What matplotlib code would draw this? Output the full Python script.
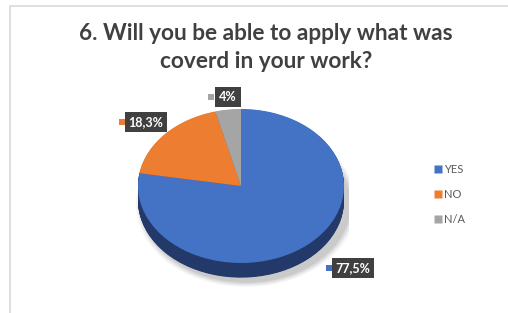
import matplotlib
matplotlib.use("Agg")
import matplotlib.pyplot as plt
from matplotlib.patches import Rectangle, Ellipse
from matplotlib.lines import Line2D

# data
answers = ["YES", "NO", "N/A"]
shares = [77.5, 18.3, 4.0]
share_labels = ["77,5%", "18,3%", "4%"]
colors = ["#4472C4", "#ED7D31", "#A5A5A5"]
side_colors = ["#22396A", "#A4521B", "#6F6F6F"]

W, H = 508, 313
fig = plt.figure(figsize=(W / 100, H / 100), dpi=100)
fig.patch.set_facecolor("white")

def fx(px):
    return px / W

def fy(py):
    return 1 - py / H

# chart frame (cut off at right and bottom)
fig.patches.append(Rectangle((fx(10), fy(330)), 1.2, fy(6) - fy(330),
                             transform=fig.transFigure, fill=False,
                             edgecolor="#D9D9D9", lw=1.2))

fig.text(fx(266), fy(33), "6. Will you be able to apply what was",
         ha="center", va="center", fontsize=16.3, fontweight="bold",
         color="#404040", family="Lato")
fig.text(fx(266), fy(61), "coverd in your work?",
         ha="center", va="center", fontsize=16.3, fontweight="bold",
         color="#404040", family="Lato")

# pie axes: top face is a unit circle squashed into an ellipse
cx, cy, rx, ry = 241, 186, 103, 77
xl, yb, yt = 1.05, -1.35, 1.05
ax = fig.add_axes([fx(cx - xl * rx), fy(cy - yb * ry), 2 * xl * rx / W, (yt - yb) * ry / H])
ax.axis("off")

depth = 0.19

# soft shadow
for i, a in enumerate([0.04, 0.05, 0.06, 0.07]):
    grow = 0.07 - i * 0.018
    ax.add_patch(Ellipse((0.05, -depth - 0.05), 2 + 2 * grow, 2 + 2 * grow,
                         facecolor="#000000", alpha=a, lw=0, zorder=0))

# side of the disc
n_layers = 30
for k in range(n_layers, 0, -1):
    off = depth * k / n_layers
    ax.pie(shares, colors=side_colors, startangle=90, counterclock=False,
           center=(0, -off), radius=1, frame=False,
           wedgeprops=dict(linewidth=0))

# top face
ax.pie(shares, colors=colors, startangle=90, counterclock=False,
       center=(0, 0), radius=1, frame=False,
       wedgeprops=dict(linewidth=0))
ax.set_aspect("auto")
ax.set_xlim(-xl, xl)
ax.set_ylim(yb, yt)
ax.axis("off")

# data labels (dark boxes with colored key)
label_pos = [(353, 268), (146, 122), (228, 97)]
for (px, py), lab, col in zip(label_pos, share_labels, colors):
    fig.text(fx(px), fy(py), lab, ha="center", va="center",
             fontsize=9, fontweight="bold", color="white", family="Lato",
             bbox=dict(boxstyle="square,pad=0.3", facecolor="#404040",
                       edgecolor="none"))
    w = len(lab) * 4.9 + 10
    fig.patches.append(Rectangle((fx(px - w / 2 - 10), fy(py + 3)), 6 / W, 6 / H,
                                 transform=fig.transFigure, facecolor=col,
                                 edgecolor="none"))

# legend
handles = [Line2D([], [], marker="s", linestyle="none", markersize=5.5,
                  markerfacecolor=c, markeredgecolor="none") for c in colors]
fig.legend(handles, answers, loc="upper left", bbox_to_anchor=(fx(432), fy(164)),
           frameon=False, labelspacing=1.25, handletextpad=0.1,
           handlelength=1.0, borderaxespad=0, borderpad=0,
           labelcolor="#595959", prop={"family": "Lato", "size": 8})

fig.savefig("out.png", dpi=100)
